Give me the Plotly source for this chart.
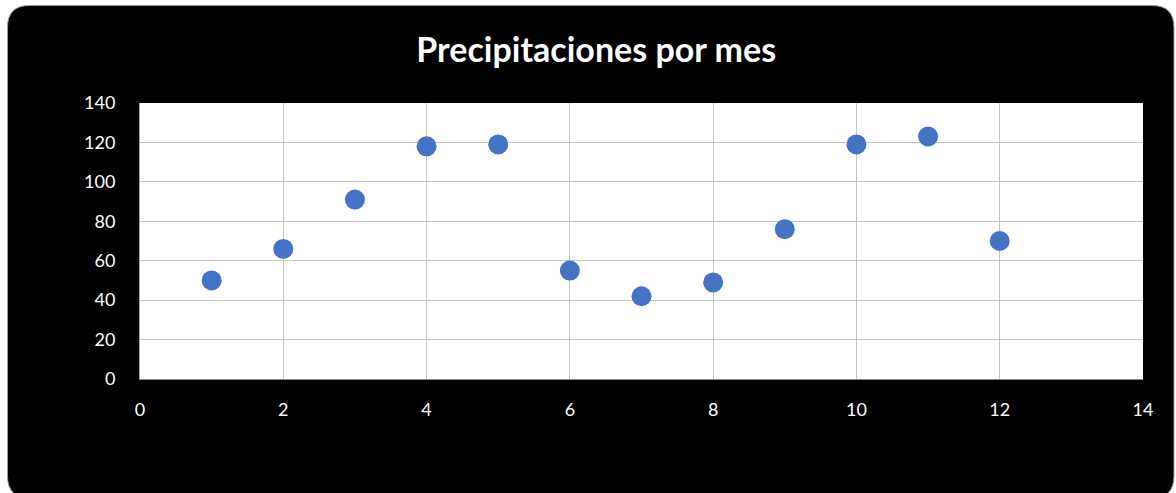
import plotly.graph_objects as go

# Monthly precipitation readings
months = [1, 2, 3, 4, 5, 6, 7, 8, 9, 10, 11, 12]
precipitation = [50, 66, 91, 118, 119, 55, 42, 49, 76, 119, 123, 70]

x_ticks = [0, 2, 4, 6, 8, 10, 12, 14]
y_ticks = [0, 20, 40, 60, 80, 100, 120, 140]

W, H = 1176, 493
L, R, T, B = 140, 33, 103, 114
pw, ph = W - L - R, H - T - B


def px_to_paper(px, py):
    return (px - L) / pw, (H - B - py) / ph


def rounded_rect(x0, y0, x1, y1, r):
    # corners in pixels, path in paper units
    def p(x, y):
        a, b = px_to_paper(x, y)
        return f"{a:.5f},{b:.5f}"
    return (
        f"M {p(x0 + r, y0)} L {p(x1 - r, y0)} Q {p(x1, y0)} {p(x1, y0 + r)} "
        f"L {p(x1, y1 - r)} Q {p(x1, y1)} {p(x1 - r, y1)} "
        f"L {p(x0 + r, y1)} Q {p(x0, y1)} {p(x0, y1 - r)} "
        f"L {p(x0, y0 + r)} Q {p(x0, y0)} {p(x0 + r, y0)} Z"
    )


fig = go.Figure()
fig.add_trace(go.Scatter(
    x=months, y=precipitation, mode="markers",
    marker=dict(color="#4472c4", size=20, line=dict(width=0)),
    hoverinfo="x+y",
))

fig.add_shape(type="path", xref="paper", yref="paper", layer="below",
              path=rounded_rect(7.5, 5.5, 1174, 498, 22),
              fillcolor="black", line=dict(color="#9a9a9a", width=1))
fig.add_shape(type="rect", xref="paper", yref="paper", layer="below",
              x0=0, y0=0, x1=1, y1=1, fillcolor="white", line=dict(width=0))

axis_font = dict(family="Lato, Open Sans, sans-serif", size=18, color="white")

fig.update_layout(
    width=W, height=H,
    margin=dict(l=L, r=R, t=T, b=B),
    paper_bgcolor="white", plot_bgcolor="white",
    showlegend=False,
    title=dict(text="<b>Precipitaciones por mes</b>", x=0.507, xanchor="center",
               y=1 - 50 / H, yanchor="middle",
               font=dict(family="Lato, Open Sans, sans-serif", size=34, color="white")),
    xaxis=dict(range=[0, 14], tickvals=x_ticks, showgrid=True, gridcolor="#c6c6c6",
               gridwidth=1, zeroline=False, showline=True, linecolor="#8c8c8c",
               linewidth=1, ticks="", ticklabelstandoff=14, tickfont=axis_font),
    yaxis=dict(range=[0, 140], tickvals=y_ticks, showgrid=True, gridcolor="#c6c6c6",
               gridwidth=1, zeroline=False, showline=True, linecolor="#a0a0a0",
               linewidth=1, ticks="", ticklabelstandoff=20, tickfont=axis_font),
)

fig.write_html("out.html")
